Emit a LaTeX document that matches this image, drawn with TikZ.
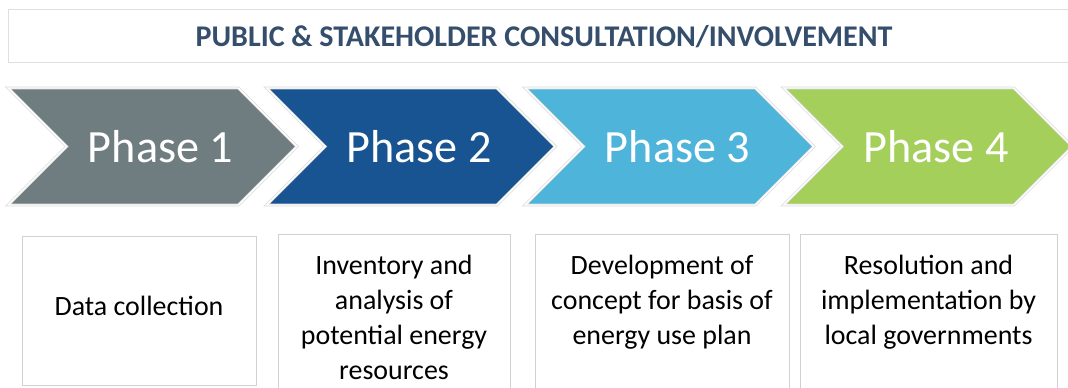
\documentclass[tikz,border=0pt]{standalone}
\usepackage{fontspec}
\setmainfont{Carlito}
\usetikzlibrary{positioning, shapes.symbols}
\definecolor{PhaseGray}{RGB}{111, 125, 128}
\definecolor{PhaseNavy}{RGB}{24, 84, 145}
\definecolor{PhaseSky}{RGB}{78, 180, 218}
\definecolor{PhaseLime}{RGB}{163, 207, 90}
\definecolor{TitleBlue}{RGB}{52, 78, 108}

\begin{document}
\begin{tikzpicture}[
    x=0.02cm, y=-0.02cm,
    phasebox/.style={signal, signal to=east, signal from=west, signal pointer angle=90, fill=#1, draw=black!15, double=white, double distance=0.8pt, inner sep=0pt, minimum width=5.78cm, minimum height=2.34cm},
    phaselabel/.style={text=white, inner sep=0pt, font=\fontsize{26.3}{30}\selectfont},
    infobox/.style={rectangle, draw=black!18, fill=white, inner sep=0pt, minimum width=#1},
    infotext/.style={align=center, inner sep=0pt, font=\fontsize{15.9}{19.9}\selectfont}
]
    \useasboundingbox (0,0) rectangle (1068,388);
    \clip (0,0) rectangle (1068,388);

    % Banner
    \node[rectangle, draw=black!12, fill=white, minimum width=21.5cm, minimum height=1.06cm, anchor=north west] (banner) at (8,9) {};
    \node[text=TitleBlue, font=\fontsize{17.1}{20}\selectfont\bfseries] (title) at (544,37) {PUBLIC \& STAKEHOLDER CONSULTATION/INVOLVEMENT};

    % Phases
    \node[phasebox=PhaseGray] (p1) at (152.5,146.5) {};
    \node[phasebox=PhaseNavy] (p2) at (411,146.5) {};
    \node[phasebox=PhaseSky] (p3) at (669.5,146.5) {};
    \node[phasebox=PhaseLime] (p4) at (928,146.5) {};

    \node[phaselabel] (l1) at ([xshift=0.16cm]p1.center) {Phase 1};
    \node[phaselabel] (l2) at ([xshift=0.16cm]p2.center) {Phase 2};
    \node[phaselabel] (l3) at ([xshift=0.16cm]p3.center) {Phase 3};
    \node[phaselabel] (l4) at ([xshift=0.16cm]p4.center) {Phase 4};

    % Descriptions
    \node[infobox=4.68cm, minimum height=2.98cm] (b1) at (139,310.5) {};
    \node[infobox=4.64cm, minimum height=3.32cm] (b2) at (394,317) {};
    \node[infobox=5.08cm, minimum height=3.32cm] (b3) at (662,317) {};
    \node[infobox=5.14cm, minimum height=3.32cm] (b4) at (928.5,317) {};

    \node[infotext] (t1) at ([yshift=0.1cm]b1.center) {Data collection};
    \node[infotext, below=0.42cm of b2.north] (t2) {Inventory and\\analysis of\\potential energy\\resources};
    \node[infotext, below=0.42cm of b3.north] (t3) {Development of\\concept for basis of\\energy use plan};
    \node[infotext, below=0.42cm of b4.north] (t4) {Resolution and\\implementation by\\local governments};

\end{tikzpicture}
\end{document}
